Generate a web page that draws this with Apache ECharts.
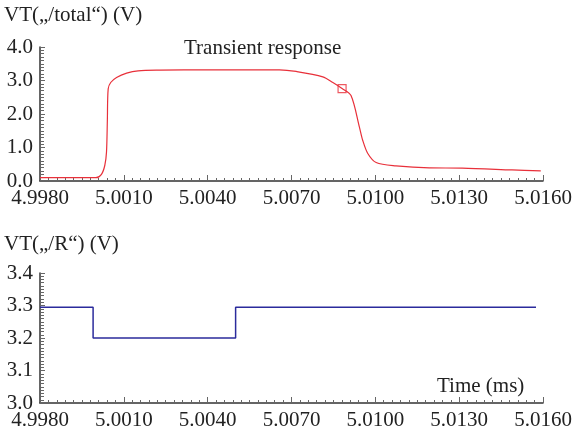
<!DOCTYPE html>
<html>
<head>
<meta charset="utf-8">
<script src="https://cdn.jsdelivr.net/npm/echarts@6/dist/echarts.min.js"></script>
<style>
  html, body { margin: 0; padding: 0; background: #fff; }
  #main { width: 579px; height: 438px; }
</style>
</head>
<body>
<div id="main"></div>
<script>
// top panel: transient response of VT(/total), time in ms, volts
var totalTime = [4.9980, 5.0000, 5.00020, 5.00032, 5.00038, 5.00041, 5.00044, 5.00053, 5.00074,
  5.00110, 5.00151, 5.00229, 5.0040, 5.0060, 5.00657, 5.00717, 5.00812, 5.00848, 5.00881,
  5.00913, 5.00943, 5.00955, 5.00973, 5.01003, 5.01074, 5.01193, 5.01311, 5.01489, 5.01592];
var totalVolt = [0.10, 0.10, 0.20, 0.47, 0.87, 1.80, 2.75, 2.94, 3.09,
  3.22, 3.29, 3.31, 3.32, 3.32, 3.32, 3.27, 3.11, 2.94, 2.76,
  2.55, 1.61, 1.21, 0.82, 0.55, 0.45, 0.39, 0.385, 0.33, 0.30];
var markerPoint = [5.00881, 2.76];

// bottom panel: VT(/R) step signal
var rTime = [4.9980, 4.9999, 5.0050, 5.01575];
var rVolt = [3.295, 3.200, 3.295, 3.295];

var timeTicks = { min: 4.9980, max: 5.0160, interval: 0.0030 };
var totalTicks = { min: 0, max: 4, interval: 1 };
var rTicks = { min: 3.0, max: 3.4, interval: 0.1 };

var serif = 'Liberation Serif';
var fs = 21;

function zip(xs, ys) {
  return xs.map(function (x, i) { return [x, ys[i]]; });
}

function xAxisFor(idx) {
  return {
    type: 'value', gridIndex: idx,
    min: timeTicks.min, max: timeTicks.max, interval: timeTicks.interval,
    axisLine: { lineStyle: { color: '#333', width: 1.5 } },
    axisTick: { inside: true, length: 6, lineStyle: { color: '#666' } },
    minorTick: { show: true, splitNumber: 10, length: 3, lineStyle: { color: '#666' } },
    splitLine: { show: false },
    axisLabel: {
      margin: 7, color: '#222', fontFamily: serif, fontSize: fs,
      formatter: function (v) { return v.toFixed(4); }
    }
  };
}

function yAxisFor(idx, t) {
  return {
    type: 'value', gridIndex: idx,
    min: t.min, max: t.max, interval: t.interval,
    axisLine: { show: true, lineStyle: { color: '#333', width: 1.5 } },
    axisTick: { show: true, inside: true, length: 5, lineStyle: { color: '#666' } },
    minorTick: { show: true, splitNumber: 10, length: 4, lineStyle: { color: '#666' } },
    splitLine: { show: false },
    axisLabel: {
      margin: 7, color: '#222', fontFamily: serif, fontSize: fs,
      formatter: function (v) { return v.toFixed(1); }
    }
  };
}

var chart = echarts.init(document.getElementById('main'));
chart.setOption({
  animation: false,
  backgroundColor: '#fff',
  graphic: [
    { type: 'text', left: 4, top: 5, style: { text: 'VT(„/total“) (V)', font: fs + 'px "Liberation Serif"', fill: '#222' } },
    { type: 'text', left: 184, top: 38, style: { text: 'Transient response', font: fs + 'px "Liberation Serif"', fill: '#222' } },
    { type: 'text', left: 4, top: 234, style: { text: 'VT(„/R“) (V)', font: fs + 'px "Liberation Serif"', fill: '#222' } },
    { type: 'text', left: 437, top: 376, style: { text: 'Time (ms)', font: fs + 'px "Liberation Serif"', fill: '#222' } }
  ],
  grid: [
    { left: 40, right: 36, top: 47, bottom: 257 },
    { left: 40, right: 36, top: 273, bottom: 35 }
  ],
  xAxis: [xAxisFor(0), xAxisFor(1)],
  yAxis: [yAxisFor(0, totalTicks), yAxisFor(1, rTicks)],
  series: [
    {
      type: 'line', xAxisIndex: 0, yAxisIndex: 0,
      data: zip(totalTime, totalVolt),
      showSymbol: false, smooth: 0.3,
      lineStyle: { color: '#e8303a', width: 1.2 }
    },
    {
      type: 'scatter', xAxisIndex: 0, yAxisIndex: 0,
      data: [markerPoint],
      symbol: 'rect', symbolSize: 8,
      itemStyle: { color: '#fff', borderColor: '#e8303a', borderWidth: 1.2 }
    },
    {
      type: 'line', xAxisIndex: 1, yAxisIndex: 1,
      data: zip(rTime, rVolt),
      step: 'end', showSymbol: false,
      lineStyle: { color: '#2b2b9c', width: 1.5 }
    }
  ]
});
</script>
</body>
</html>
